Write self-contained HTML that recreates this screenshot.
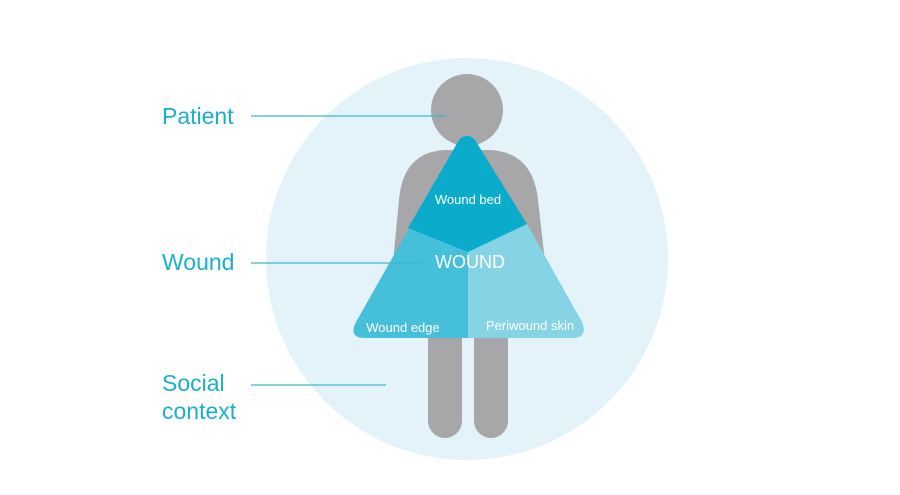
<!DOCTYPE html>
<html><head><meta charset="utf-8"><style>
html,body{margin:0;padding:0;background:#fff;width:900px;height:495px;overflow:hidden}
svg{display:block}
</style></head><body>
<svg width="900" height="495" viewBox="0 0 900 495" xmlns="http://www.w3.org/2000/svg">
<circle cx="467" cy="259" r="201" fill="#e4f3f9"/>
<g fill="#a7a7aa">
<circle cx="467" cy="110" r="36"/>
<path d="M445 150 Q403 152 399 200 L393 262 L545 262 L538 200 Q533 152 490 150 Z"/>
<rect x="428" y="320" width="34" height="118" rx="17"/>
<rect x="474" y="320" width="34" height="118" rx="17"/>
</g>
<path d="M467 137 Q470 134 475 140 L582 322 Q588 338 572 338 L365 338 Q348 338 356 322 L459 140 Q463 134 467 137 Z" fill="#46c0da"/>
<path d="M468 252 L527 224 L582 322 Q588 338 572 338 L468 338 Z" fill="#86d3e5"/>
<path d="M459 140 Q467 132 475 140 L527 224 L468 252 L408 228 Z" fill="#0aabcb"/>
<line x1="251" y1="116" x2="446" y2="116" stroke="#3fb6cf" stroke-width="1.2"/>
<line x1="251" y1="263" x2="422" y2="263" stroke="#3fb6cf" stroke-width="1.2"/>
<line x1="251" y1="385" x2="386" y2="385" stroke="#3fb6cf" stroke-width="1.2"/>
<g font-family="Liberation Sans, sans-serif" fill="#1ab0cc" font-size="23">
<text x="162" y="124">Patient</text>
<text x="162" y="270">Wound</text>
<text x="162" y="391">Social</text>
<text x="162" y="419">context</text>
</g>
<g font-family="Liberation Sans, sans-serif" fill="#fff">
<text x="468" y="204" font-size="13" text-anchor="middle">Wound bed</text>
<text x="470" y="268" font-size="18" text-anchor="middle">WOUND</text>
<text x="403" y="332" font-size="13" text-anchor="middle">Wound edge</text>
<text x="530" y="330" font-size="13" text-anchor="middle">Periwound skin</text>
</g>
</svg>
</body></html>
